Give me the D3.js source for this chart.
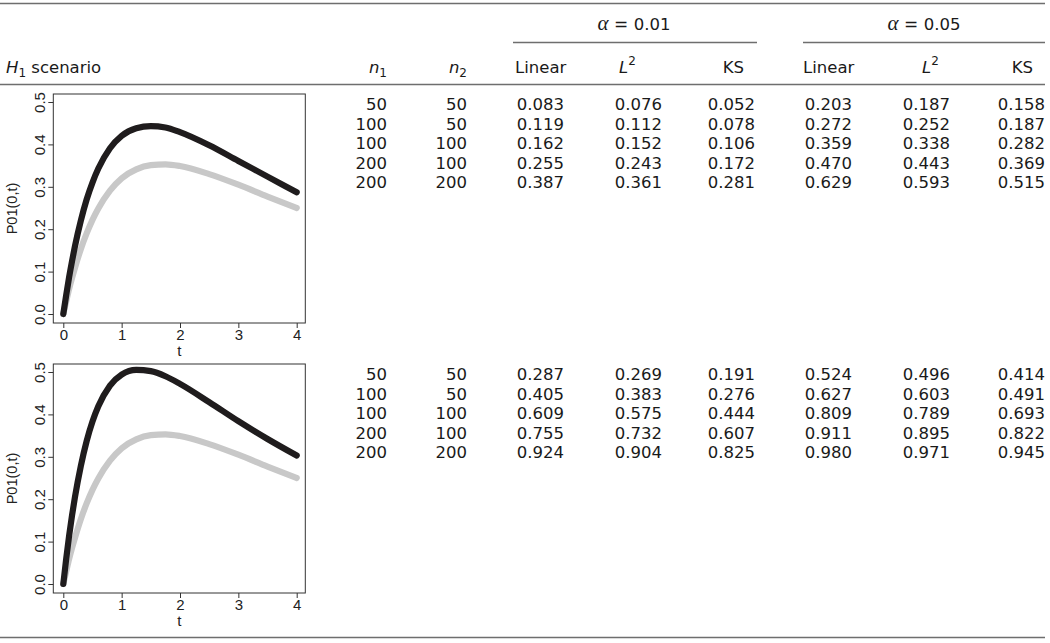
<!DOCTYPE html>
<html>
<head>
<meta charset="utf-8">
<script src="https://cdn.jsdelivr.net/npm/d3@7"></script>
<style>
  html, body { margin: 0; padding: 0; background: #fff; }
  svg { display: block; }
  .tbl { font-family: "DejaVu Sans", sans-serif; font-size: 16.5px; fill: #1a1a1a; }
  .ax text { font-family: "Liberation Sans", Arial, sans-serif; font-size: 15px; fill: #222; }
  .ax line { stroke: #333; }
</style>
</head>
<body>
<svg id="chart" width="1050" height="643"></svg>
<script>
// ---------------- DATA ----------------
const tValues = [0, 0.05, 0.1, 0.15, 0.2, 0.3, 0.4, 0.5, 0.6, 0.8, 1.0, 1.25, 1.5, 1.75, 2.0, 2.5, 3.0, 3.5, 4.0];
// grey reference curve P01(0,t) (same in both panels)
const referenceCurve = [0, 0.030, 0.059, 0.085, 0.109, 0.153, 0.190, 0.222, 0.249, 0.291, 0.320, 0.341, 0.351, 0.353, 0.349, 0.330, 0.305, 0.277, 0.250];
// black curves: alternative scenarios
const scenario1Curve = [0, 0.045, 0.087, 0.125, 0.160, 0.220, 0.270, 0.310, 0.343, 0.391, 0.420, 0.438, 0.443, 0.440, 0.429, 0.398, 0.361, 0.324, 0.287];
const scenario2Curve = [0, 0.060, 0.114, 0.162, 0.205, 0.278, 0.337, 0.383, 0.419, 0.468, 0.494, 0.505, 0.502, 0.490, 0.472, 0.429, 0.384, 0.342, 0.303];

const xTicks = [0, 1, 2, 3, 4];
const yTicks = [0, 0.1, 0.2, 0.3, 0.4, 0.5];

const n1 = [50, 100, 100, 200, 200];
const n2 = [50, 50, 100, 100, 200];

const alphaLabels = ["0.01", "0.05"];
const methods = ["Linear", "L2", "KS"];

// scenario 1
const s1Linear01 = [0.083, 0.119, 0.162, 0.255, 0.387];
const s1L2_01    = [0.076, 0.112, 0.152, 0.243, 0.361];
const s1KS01     = [0.052, 0.078, 0.106, 0.172, 0.281];
const s1Linear05 = [0.203, 0.272, 0.359, 0.470, 0.629];
const s1L2_05    = [0.187, 0.252, 0.338, 0.443, 0.593];
const s1KS05     = [0.158, 0.187, 0.282, 0.369, 0.515];
// scenario 2
const s2Linear01 = [0.287, 0.405, 0.609, 0.755, 0.924];
const s2L2_01    = [0.269, 0.383, 0.575, 0.732, 0.904];
const s2KS01     = [0.191, 0.276, 0.444, 0.607, 0.825];
const s2Linear05 = [0.524, 0.627, 0.809, 0.911, 0.980];
const s2L2_05    = [0.496, 0.603, 0.789, 0.895, 0.971];
const s2KS05     = [0.414, 0.491, 0.693, 0.822, 0.945];

// ---------------- LAYOUT ----------------
const svg = d3.select("#chart");
const ruleColor = "#6e6e6e";
const blockOffset = 270;

function rule(x1, x2, y, w) {
  svg.append("line").attr("x1", x1).attr("x2", x2).attr("y1", y).attr("y2", y)
    .attr("stroke", ruleColor).attr("stroke-width", w || 1.5);
}
rule(0, 1045, 3.5);
rule(513, 757, 42.5);
rule(803, 1045, 42.5);
rule(0, 1045, 84.5);
rule(0, 1045, 637.5);

// Header texts
const hdr = svg.append("g").attr("class", "tbl");
function alphaHeader(cx, val) {
  const t = hdr.append("text").attr("x", cx).attr("y", 30).attr("text-anchor", "middle");
  t.append("tspan").style("font-family", "'Liberation Serif', serif").style("font-style", "italic").style("font-size", "21px").text("α");
  t.append("tspan").style("font-size", "17px").text(" = ");
  t.append("tspan").text(val);
}
alphaHeader(634, alphaLabels[0]);
alphaHeader(924, alphaLabels[1]);

const hY = 73;
{
  const t = hdr.append("text").attr("x", 6).attr("y", hY);
  t.append("tspan").style("font-style", "italic").text("H");
  t.append("tspan").attr("dy", 4).style("font-size", "12px").text("1");
  t.append("tspan").attr("dy", -4).text(" scenario");
}
function subHeader(xRight, sub) {
  const t = hdr.append("text").attr("x", xRight).attr("y", hY).attr("text-anchor", "end");
  t.append("tspan").style("font-style", "italic").text("n");
  t.append("tspan").attr("dy", 4).style("font-size", "12px").text(sub);
}
subHeader(387, "1");
subHeader(467, "2");

function methodHeader(method, x, anchor) {
  const t = hdr.append("text").attr("x", x).attr("y", hY).attr("text-anchor", anchor);
  if (method === "L2") {
    t.append("tspan").style("font-style", "italic").text("L");
    t.append("tspan").attr("dy", -8).style("font-size", "12px").text("2");
  } else {
    t.text(method);
  }
}
methodHeader(methods[0], 515, "start");
methodHeader(methods[1], 619, "start");
methodHeader(methods[2], 744, "end");
methodHeader(methods[0], 803, "start");
methodHeader(methods[1], 922, "start");
methodHeader(methods[2], 1033, "end");

// Table body
const rowY = d3.scaleLinear().domain([0, n1.length - 1]).range([110, 188]);
const colRight = [387, 467, 564, 662, 755, 852, 950, 1045];
const fmt = d3.format(".3f");

function drawBlock(cols, dy) {
  const g = svg.append("g").attr("class", "tbl").attr("transform", `translate(0,${dy})`);
  cols.forEach((col, ci) => {
    g.selectAll(null).data(col).enter().append("text")
      .attr("x", colRight[ci])
      .attr("y", (d, i) => rowY(i))
      .attr("text-anchor", "end")
      .text(d => ci < 2 ? d : fmt(d));
  });
}
drawBlock([n1, n2, s1Linear01, s1L2_01, s1KS01, s1Linear05, s1L2_05, s1KS05], 0);
drawBlock([n1, n2, s2Linear01, s2L2_01, s2KS01, s2Linear05, s2L2_05, s2KS05], blockOffset);

// ---------------- PLOTS ----------------
const box = { left: 53.3, right: 305.3, top: 94, bottom: 323 };
const x = d3.scaleLinear().domain([0, 4]).range([63.3, 296.7]);
const y = d3.scaleLinear().domain([0, 0.5]).range([314, 102]);

function drawPlot(curve, dy) {
  const g = svg.append("g").attr("transform", `translate(0,${dy})`);
  const line = d3.line().x(d => x(d[0])).y(d => y(d[1])).curve(d3.curveMonotoneX);

  g.append("path").datum(tValues.map((t, i) => [t, referenceCurve[i]]))
    .attr("d", line).attr("fill", "none").attr("stroke", "#c8c8c8")
    .attr("stroke-width", 6.2).attr("stroke-linecap", "round").attr("stroke-linejoin", "round");
  g.append("path").datum(tValues.map((t, i) => [t, curve[i]]))
    .attr("d", line).attr("fill", "none").attr("stroke", "#1f1c1d")
    .attr("stroke-width", 6.2).attr("stroke-linecap", "round").attr("stroke-linejoin", "round");

  g.append("rect").attr("x", box.left).attr("y", box.top)
    .attr("width", box.right - box.left).attr("height", box.bottom - box.top)
    .attr("fill", "none").attr("stroke", "#333").attr("stroke-width", 1);

  const xa = g.append("g").attr("class", "ax").attr("transform", `translate(0,${box.bottom})`)
    .call(d3.axisBottom(x).tickValues(xTicks).tickSize(5).tickPadding(1).tickFormat(d3.format("d")));
  xa.select(".domain").remove();

  const ya = g.append("g").attr("class", "ax").attr("transform", `translate(${box.left},0)`)
    .call(d3.axisLeft(y).tickValues(yTicks).tickSize(5).tickFormat(d3.format(".1f")));
  ya.select(".domain").remove();
  ya.selectAll("text").attr("transform", "rotate(-90)").attr("x", 0).attr("y", -8.5)
    .attr("dy", 0).style("text-anchor", "middle");

  g.append("text").attr("x", (box.left + box.right) / 2).attr("y", 356)
    .attr("text-anchor", "middle")
    .style("font-family", "'Liberation Sans', Arial, sans-serif").style("font-size", "15px").style("fill", "#222")
    .text("t");
  g.append("text").attr("transform", `translate(17,${(box.top + box.bottom) / 2}) rotate(-90)`)
    .attr("text-anchor", "middle")
    .style("font-family", "'Liberation Sans', Arial, sans-serif").style("font-size", "14.5px").style("fill", "#222")
    .text("P01(0,t)");
}
drawPlot(scenario1Curve, 0);
drawPlot(scenario2Curve, blockOffset);
</script>
</body>
</html>
